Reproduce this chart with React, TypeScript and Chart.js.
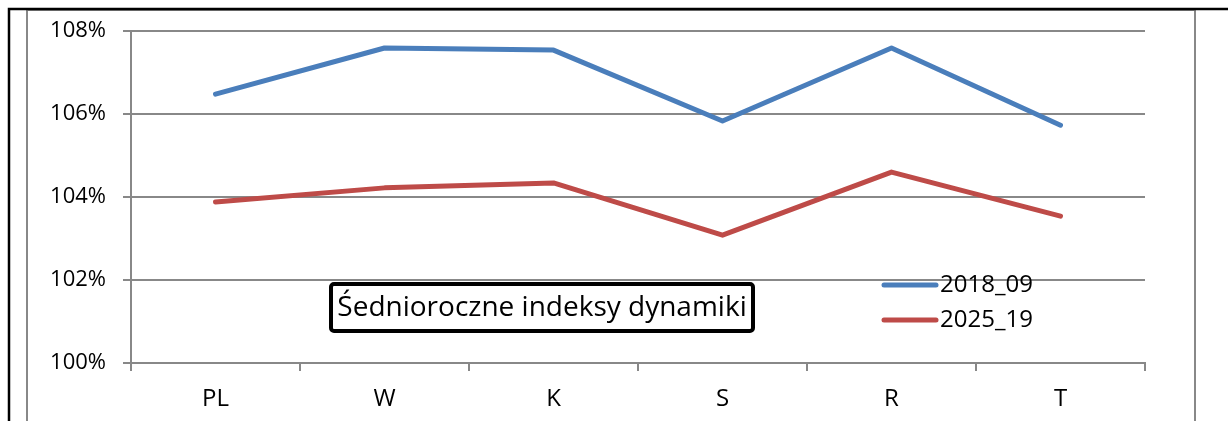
import React, { useEffect, useRef } from "react";
import { Chart, registerables } from "chart.js";

Chart.register(...registerables);

const categories = ["PL", "W", "K", "S", "R", "T"];
const series2018_09 = [106.48, 107.59, 107.54, 105.83, 107.59, 105.73];
const series2025_19 = [103.88, 104.22, 104.34, 103.08, 104.6, 103.54];
const seriesNames = ["2018_09", "2025_19"];
const seriesColors = ["#4A7EBB", "#BE4B48"];
const yMin = 100;
const yMax = 108;
const yStep = 2;
const titleText = "Śednioroczne indeksy dynamiki";

const FONT = "'Open Sans', 'Noto Sans', sans-serif";
const GRAY = "#888888";

const decorPlugin = {
  id: "decor",
  beforeDraw(chart: any) {
    const ctx = chart.ctx;
    ctx.save();
    ctx.fillStyle = "#ffffff";
    ctx.fillRect(0, 0, chart.width, chart.height);
    // gray outer chart border
    ctx.strokeStyle = GRAY;
    ctx.lineWidth = 2;
    ctx.beginPath();
    ctx.moveTo(27, 430);
    ctx.lineTo(27, 10);
    ctx.lineTo(1195, 10);
    ctx.lineTo(1195, 430);
    ctx.stroke();
    // black frame
    ctx.strokeStyle = "#000000";
    ctx.lineWidth = 2.5;
    ctx.beginPath();
    ctx.moveTo(9, 430);
    ctx.lineTo(9, 9);
    ctx.lineTo(1228, 9);
    ctx.stroke();
    ctx.restore();
  },
  afterDatasetsDraw(chart: any) {
    const ctx = chart.ctx;
    ctx.save();
    // legend
    const rows = [285, 320];
    chart.data.datasets.forEach((ds: any, i: number) => {
      const y = rows[i];
      ctx.strokeStyle = ds.borderColor;
      ctx.lineWidth = 5;
      ctx.lineCap = "round";
      ctx.beginPath();
      ctx.moveTo(884, y);
      ctx.lineTo(936, y);
      ctx.stroke();
      ctx.fillStyle = "#000000";
      ctx.font = `24px ${FONT}`;
      ctx.textAlign = "left";
      ctx.textBaseline = "middle";
      ctx.fillText(ds.label, 940, y);
    });
    // title box
    const bx = 331, by = 284, bw = 422, bh = 47;
    ctx.lineWidth = 4;
    ctx.strokeStyle = "#000000";
    ctx.fillStyle = "#ffffff";
    ctx.beginPath();
    (ctx as any).roundRect(bx, by, bw, bh, 3);
    ctx.fill();
    ctx.stroke();
    ctx.fillStyle = "#000000";
    ctx.font = `28px ${FONT}`;
    ctx.textAlign = "center";
    ctx.textBaseline = "middle";
    ctx.fillText(titleText, bx + bw / 2, by + bh / 2 + 1);
    ctx.restore();
  },
};

export default function App() {
  const ref = useRef<HTMLCanvasElement | null>(null);
  useEffect(() => {
    if (!ref.current) return;
    const chart = new Chart(ref.current, {
      type: "line",
      data: {
        labels: categories,
        datasets: [
          {
            label: seriesNames[0],
            data: series2018_09,
            borderColor: seriesColors[0],
            backgroundColor: seriesColors[0],
            borderWidth: 5,
            pointRadius: 0,
            tension: 0,
            borderCapStyle: "round",
            borderJoinStyle: "round",
          },
          {
            label: seriesNames[1],
            data: series2025_19,
            borderColor: seriesColors[1],
            backgroundColor: seriesColors[1],
            borderWidth: 5,
            pointRadius: 0,
            tension: 0,
            borderCapStyle: "round",
            borderJoinStyle: "round",
          },
        ],
      },
      options: {
        animation: false,
        responsive: false,
        devicePixelRatio: 1,
        layout: { padding: { top: 31, right: 83, left: 0, bottom: 0 } },
        plugins: {
          legend: { display: false },
          tooltip: { enabled: false },
          title: { display: false },
        },
        scales: {
          x: {
            type: "category",
            offset: true,
            grid: {
              offset: true,
              drawOnChartArea: false,
              drawTicks: true,
              tickLength: 8,
              color: GRAY,
              lineWidth: 2,
            },
            border: { display: true, color: GRAY, width: 2 },
            ticks: {
              color: "#000000",
              font: { family: FONT, size: 24 },
              padding: 14,
              maxRotation: 0,
            },
            afterFit(scale: any) {
              scale.height = 58;
            },
          },
          y: {
            min: yMin,
            max: yMax,
            grid: {
              color: GRAY,
              lineWidth: 2,
              drawTicks: true,
              tickLength: 8,
            },
            border: { display: true, color: GRAY, width: 2 },
            ticks: {
              stepSize: yStep,
              color: "#000000",
              font: { family: FONT, size: 22 },
              padding: 17,
              callback: (v: any) => `${v}%`,
            },
            afterFit(scale: any) {
              scale.width = 131;
            },
          },
        },
      },
      plugins: [decorPlugin],
    } as any);
    return () => chart.destroy();
  }, []);
  return (
    <div style={{ position: "absolute", left: 0, top: 0, width: 1228, height: 421 }}>
      <canvas ref={ref} width={1228} height={421} style={{ display: "block" }} />
    </div>
  );
}
